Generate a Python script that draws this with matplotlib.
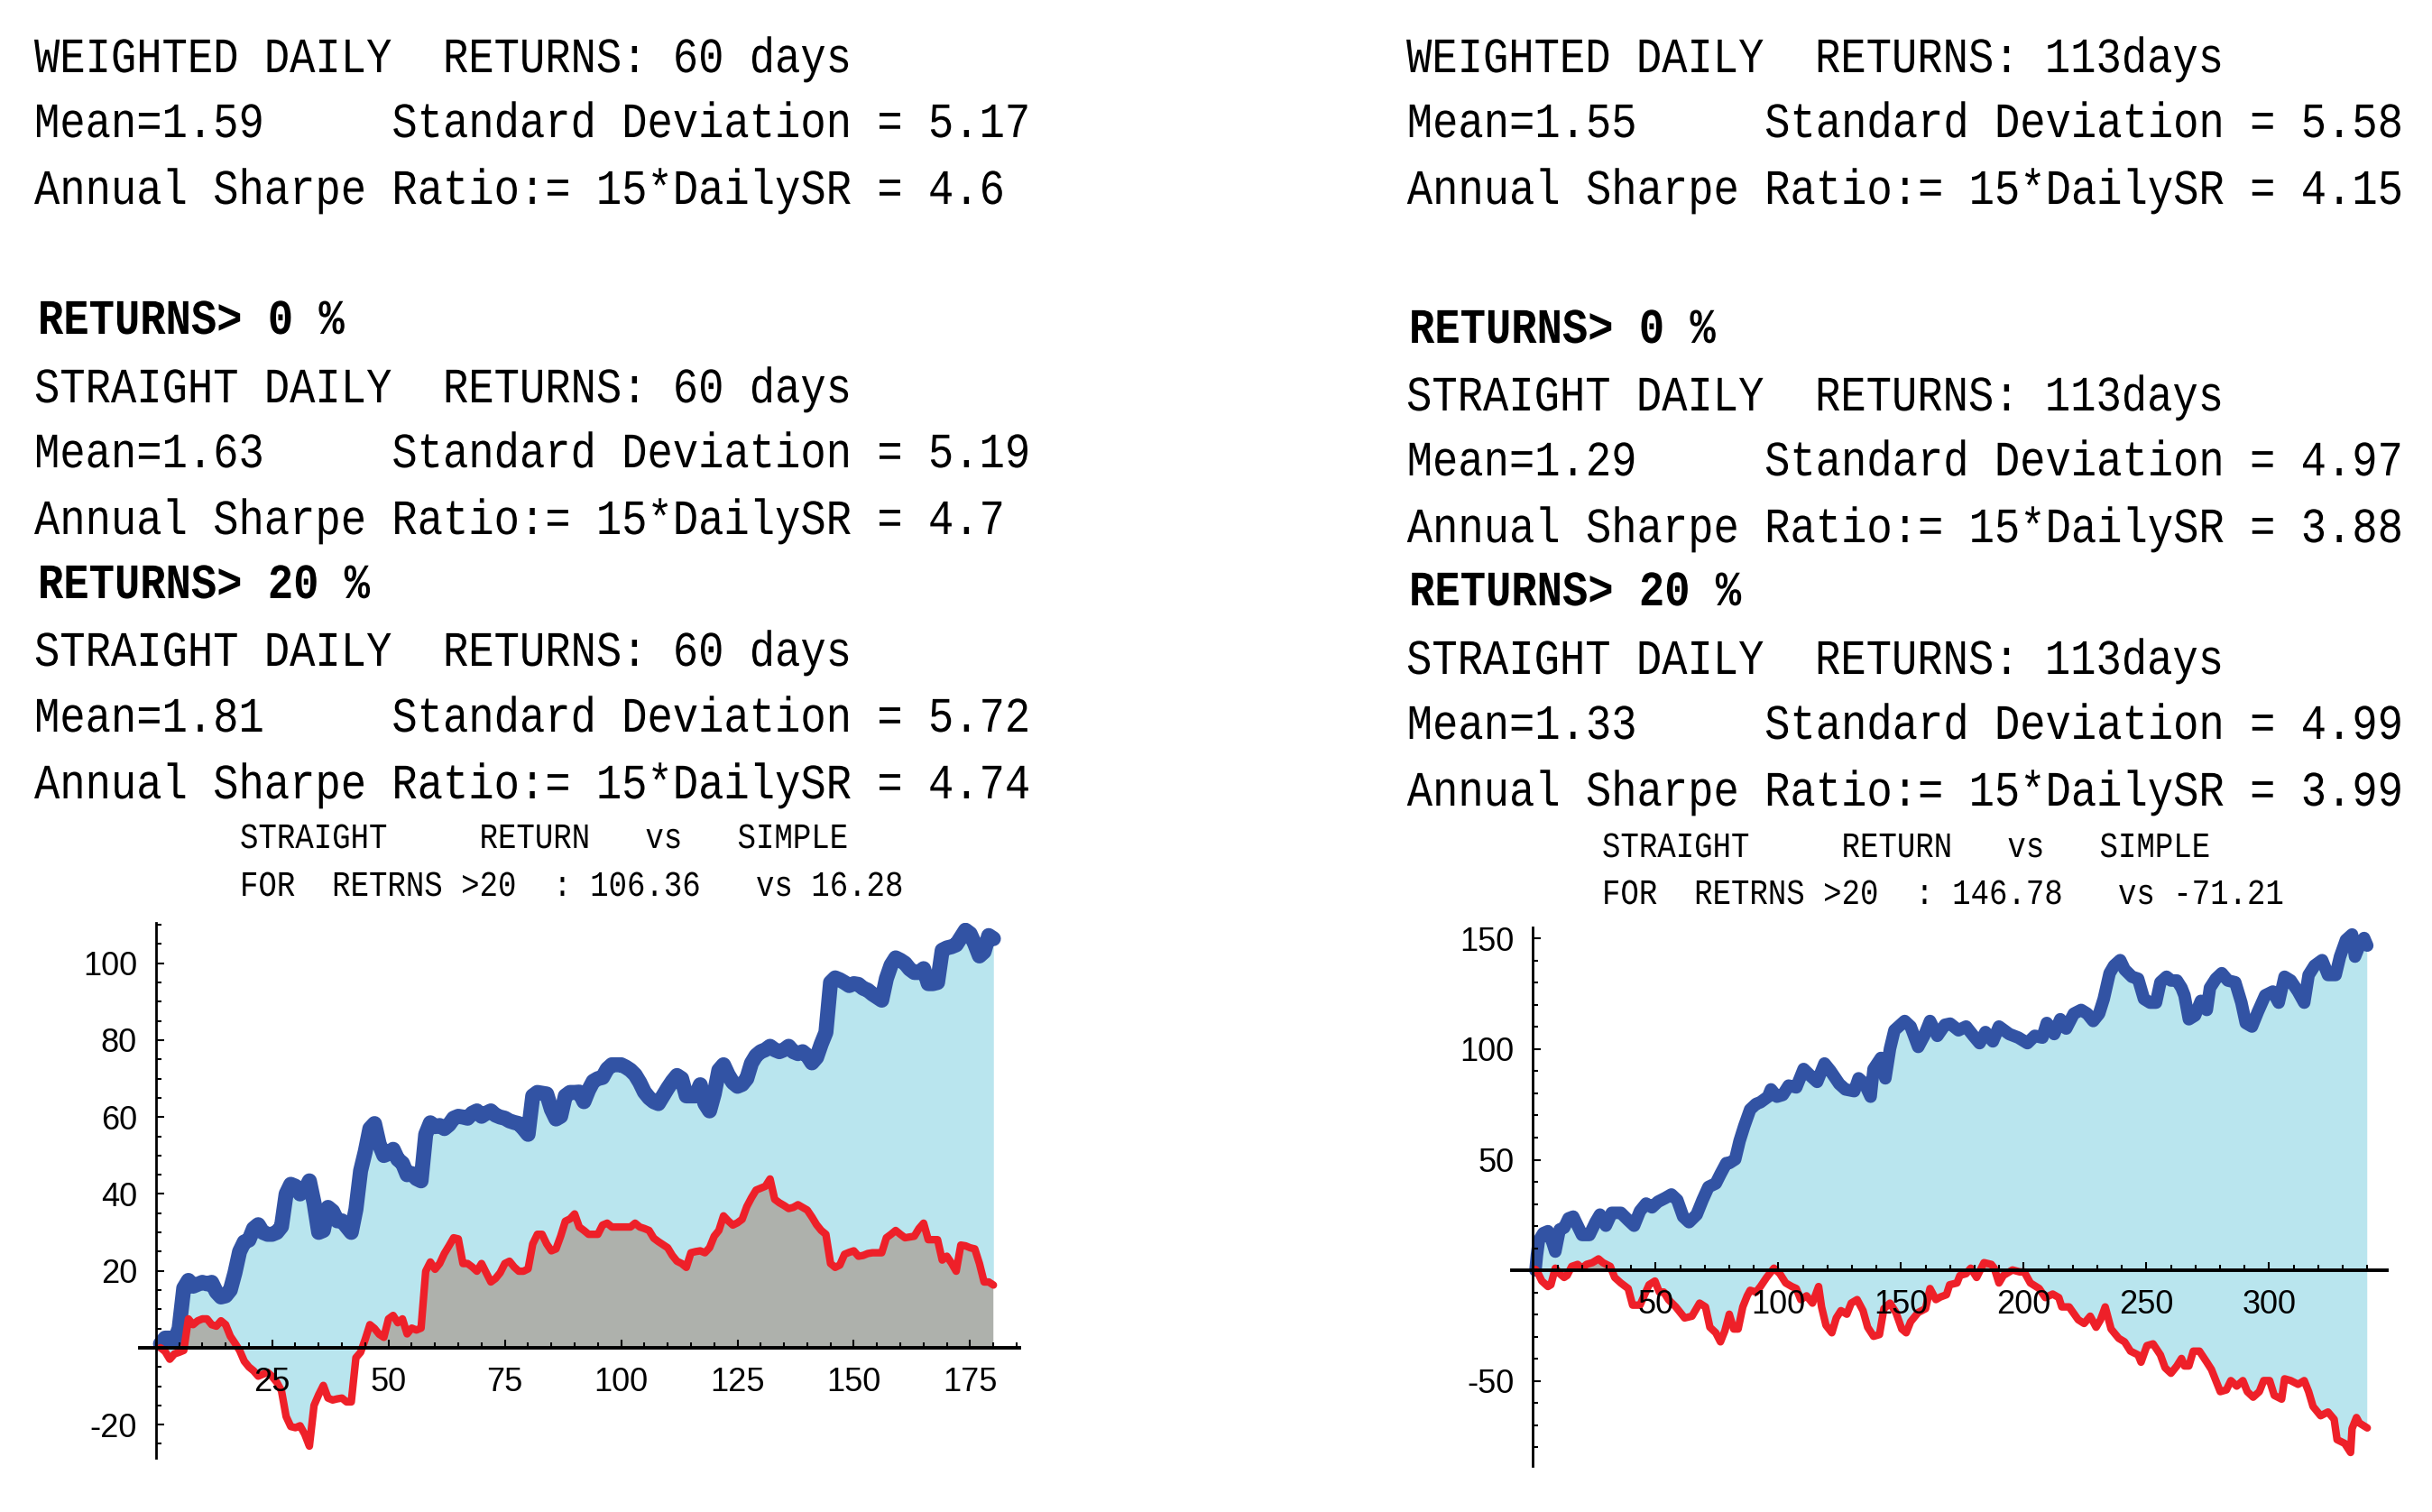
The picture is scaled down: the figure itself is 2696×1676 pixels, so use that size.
import numpy as np
import matplotlib
matplotlib.use("Agg")
import matplotlib.pyplot as plt
from matplotlib.patheffects import AbstractPathEffect
from matplotlib.transforms import Affine2D
from matplotlib.ticker import FixedLocator, FixedFormatter, MultipleLocator

W, H = 2696, 1676

# ---------------- text of the two report columns ----------------
left_lines = [
    "WEIGHTED DAILY  RETURNS: 60 days",
    "Mean=1.59     Standard Deviation = 5.17",
    "Annual Sharpe Ratio:= 15*DailySR = 4.6",
    "RETURNS> 0 %",
    "STRAIGHT DAILY  RETURNS: 60 days",
    "Mean=1.63     Standard Deviation = 5.19",
    "Annual Sharpe Ratio:= 15*DailySR = 4.7",
    "RETURNS> 20 %",
    "STRAIGHT DAILY  RETURNS: 60 days",
    "Mean=1.81     Standard Deviation = 5.72",
    "Annual Sharpe Ratio:= 15*DailySR = 4.74",
]
right_lines = [
    "WEIGHTED DAILY  RETURNS: 113days",
    "Mean=1.55     Standard Deviation = 5.58",
    "Annual Sharpe Ratio:= 15*DailySR = 4.15",
    "RETURNS> 0 %",
    "STRAIGHT DAILY  RETURNS: 113days",
    "Mean=1.29     Standard Deviation = 4.97",
    "Annual Sharpe Ratio:= 15*DailySR = 3.88",
    "RETURNS> 20 %",
    "STRAIGHT DAILY  RETURNS: 113days",
    "Mean=1.33     Standard Deviation = 4.99",
    "Annual Sharpe Ratio:= 15*DailySR = 3.99",
]
bold_rows = [3, 7]
left_title = ["STRAIGHT     RETURN   vs   SIMPLE",
              "FOR  RETRNS >20  : 106.36   vs 16.28"]
right_title = ["STRAIGHT     RETURN   vs   SIMPLE",
               "FOR  RETRNS >20  : 146.78   vs -71.21"]

# ---------------- left chart: cumulative returns, days 1..180 ----------------
left_straight = [1, 2.5, 2.5, 1.7, 5, 15.5, 17.5, 16, 16.5, 17,
                 16.6, 17, 14.5, 13.2, 13.5, 15, 19.5, 25, 27.5, 28,
                 31, 32, 30, 29.5, 29.5, 30, 31.5, 40, 42.5, 42,
                 40, 41, 43.4, 37.7, 30, 30.5, 36.5, 35.5, 33, 33,
                 31.5, 30, 36, 46, 51, 57, 58.3, 53, 50, 50.5,
                 51.6, 49, 48, 45, 45.3, 44, 43.4, 55.5, 58.5, 57.5,
                 57.8, 57, 58, 59.7, 60.2, 60, 59.7, 61, 61.6, 60.2,
                 61, 61.6, 60.5, 60, 59.7, 59, 58.6, 58.3, 57, 55.5,
                 65.5, 66.4, 66.2, 66, 62, 59.5, 60.2, 65.5, 66.4, 66.4,
                 66.5, 64, 67, 69.3, 70, 70.3, 72.5, 73.6, 73.6, 73.6,
                 73, 72.2, 71, 69, 66.5, 65, 64, 63.5, 65.5, 67.5,
                 69.3, 70.8, 70, 65.5, 65.5, 65.5, 68.4, 63.5, 61.6, 66,
                 72.2, 73.6, 71, 69, 68, 68.5, 70, 74, 76, 77,
                 77.5, 78.4, 77.5, 77, 77.5, 78.4, 77, 76.5, 77, 76,
                 74.1, 75.5, 79, 82, 95, 96.2, 95.7, 95, 94.2, 94.7,
                 94.5, 93.5, 93, 92, 91.2, 90.4, 96, 99.5, 101.4, 100.8,
                 100, 98.5, 97.6, 97.6, 98.6, 94.7, 94.7, 95, 103.4, 104,
                 104.3, 104.8, 106.7, 108.6, 107.7, 105, 101.9, 103, 107.2, 106.4]
left_simple = [0, -1, -3, -1.6, -1.2, -0.7, 7.5, 6, 7, 7.5,
               7.5, 6, 5.6, 7, 6, 3, 1.2, -0.7, -3.5, -5,
               -6, -7.4, -6.9, -6.4, -7.5, -9, -11.2, -17.9, -20.5, -20.8,
               -20.3, -22.5, -25.6, -15, -12.2, -9.8, -13.1, -13.6, -13.3, -13.1,
               -14.1, -14.1, -2.6, -1.2, 2.2, 6, 5, 3.5, 2.7, 7.5,
               8.4, 6.5, 7.5, 3.6, 5.1, 4.6, 5.1, 19.9, 22.3, 20.4,
               21.9, 24.5, 26.5, 28.6, 28.3, 21.9, 21.9, 21, 19.9, 21.9,
               19.5, 17.1, 18, 19.5, 21.9, 22.5, 21, 19.9, 19.9, 20.5,
               27, 29.5, 29.5, 27, 25.2, 25.7, 29, 32.9, 33.5, 34.8,
               31.4, 30.5, 29.5, 29.5, 29.5, 31.9, 32.4, 31.4, 31.4, 31.4,
               31.4, 31.4, 32.4, 31.4, 31, 30.5, 28.5, 27.6, 26.8, 26,
               24, 22.5, 21.9, 20.9, 24.7, 25, 25.2, 24.7, 26, 29,
               30.5, 34.3, 33, 31.9, 32.5, 33.4, 36.7, 39, 41, 41.5,
               42, 43.9, 38.6, 37.7, 37, 36.2, 36.5, 37.2, 36.5, 35.8,
               34, 32, 30.5, 29.5, 21.9, 20.9, 21.5, 24.3, 24.8, 25.2,
               23.8, 24, 24.5, 24.7, 24.7, 24.7, 28.6, 29.5, 30.5, 29.5,
               28.6, 28.8, 29, 31, 32.4, 28.1, 28.1, 28.1, 22.8, 23.8,
               22, 19.9, 26.7, 26.5, 26, 25.7, 21.9, 17.1, 17.1, 16.3]
left_days = np.arange(1, len(left_straight) + 1)

# ---------------- right chart: points ----------------
right_straight_x = [1, 1.6, 2.4, 4.2, 6.1, 7.9, 9.1, 10.9, 12.7, 14.5, 16.4, 18.2, 20, 23,
                    25.5, 27.3, 29.7, 32.1, 35.8, 38.8, 41.2, 43.6, 46.1, 48.5, 50.9, 53.9,
                    56.4, 58.8, 61.2, 63.6, 66.7, 69.1, 71.5, 74.5, 76.4, 78.8, 80, 82.4,
                    84.2, 86.1, 88.5, 90.9, 92.7, 95.8, 97, 99.4, 101.8, 104.2, 107.3, 110.3,
                    113.3, 115.8, 118.8, 121.2, 124.8, 127.3, 130.9, 132.7, 135.2, 137.6,
                    138.8, 141.8, 143.6, 145.5, 147.3, 151.5, 153.9, 157, 159.4, 161.8,
                    164.8, 167.9, 170, 173.4, 176.5, 179.5, 182, 184.4, 187.4, 189.9, 194.1,
                    197.8, 201.5, 204.5, 207.6, 209.4, 212.4, 214.9, 217.3, 220.4, 223.4,
                    225.9, 228.3, 230.7, 232.6, 235, 236.8, 239.3, 241.1, 244.1, 246.6, 249,
                    251.5, 253.9, 255.7, 258.2, 260, 262.4, 264.3, 265.5, 267.3, 269.8,
                    272.2, 274.6, 275.9, 278.3, 280.7, 283.2, 286.2, 288.7, 290.5, 293,
                    295.4, 298.4, 301.5, 303.9, 306.3, 308.8, 311.8, 314.3, 316.1, 318.5,
                    321.6, 324, 327.1, 328.9, 331.3, 333.8, 335, 336.8, 338.7, 340]
right_straight = [0, 6.8, 13.5, 16.8, 17.7, 12.7, 8.5, 18.5, 19.3, 23.5, 24.3, 20.2, 16, 16,
                  21.8, 25.2, 20.2, 26, 26, 22.7, 20.2, 26.8, 30.2, 28.5, 31, 32.7,
                  34.3, 31.8, 24.3, 21.8, 25.2, 31.8, 37.7, 39.3, 43.5, 48.5, 48.5, 50.2,
                  58.5, 65.2, 72.7, 75.2, 76, 78.5, 81.8, 78.5, 79.3, 83.5, 82.7, 91,
                  87.7, 85.2, 93.5, 90.2, 84.3, 81.8, 81, 86.8, 84.3, 78.5,
                  91, 96, 86.8, 100.2, 108.5, 112.7, 110.2, 101, 106, 112.7,
                  106, 111, 111.5, 108.5, 110.2, 106, 102.7, 107.7, 103.5, 110.2, 106.8,
                  105.2, 102.7, 106, 105.2, 111.8, 106.8, 113.5, 109.3, 116, 117.7,
                  116, 112.7, 116, 122.7, 134.3, 137.7, 140.2, 136, 132.7, 131.8, 122.7,
                  121, 121, 130.2, 132.7, 131, 131, 127.7, 124.3, 113.5, 115.2,
                  121.8, 117.7, 127.7, 131.8, 134.3, 131, 130.2, 121, 111.8, 110.2,
                  116.8, 124.3, 126, 121, 132.7, 131, 126, 121, 133.5, 137.7,
                  140.2, 133.5, 133.5, 141.8, 149.3, 151.8, 141.8, 146.8, 150.2, 146.8]
right_simple_x = [1, 1.8, 3.6, 6.1, 7.3, 9.1, 10.9, 12.7, 13.9, 15.8, 18.2, 20, 21.8, 24.2,
                  26.7, 28.5, 31.5, 33.3, 35.8, 38.8, 40.6, 43.6, 47.3, 49.7, 51.5, 53.3,
                  55.2, 58.2, 61.8, 64.8, 67.9, 70.3, 72.1, 74.5, 76.4, 78.2, 80, 81.8,
                  83.6, 85.5, 87.3, 88.5, 90.9, 92.7, 95.2, 98.2, 100.6, 103, 105.5, 107.3,
                  109.1, 111.5, 113.9, 116.4, 117.6, 119.4, 121.8, 123.6, 125.5, 127.9,
                  129.7, 132.1, 134.5, 136.4, 138.8, 141.2, 143, 145.5, 147.9, 150.3,
                  152.1, 153.9, 157, 160, 161.8, 164.2, 166.1, 168.5, 169.8, 172.8, 174,
                  176.5, 178.4, 180.8, 183.8, 186.8, 188, 189.9, 191.7, 195.4, 198.4,
                  200.2, 202.7, 206.3, 208.8, 211.8, 214.3, 215.5, 218.5, 222.2, 224.6,
                  227.1, 229.5, 231.3, 233.2, 235.6, 238.7, 241.1, 243.5, 246.6, 247.8,
                  250.2, 252.7, 255.7, 257.6, 260, 262.4, 264.3, 265.5, 267.3, 269.1,
                  271.6, 274.6, 276.5, 278.3, 280.1, 282.6, 284.4, 286.8, 289.3, 291.1,
                  293.5, 296, 297.8, 300.2, 302.1, 305.1, 306.3, 308.8, 311.8, 314.3,
                  316.1, 317.9, 321, 324, 326.5, 327.7, 330.8, 333.2, 333.8, 335.6,
                  336.8, 340]
right_simple = [0.5, -0.7, -4.8, -7.3, -6.5, 1, -1.5, -3.2, -2.3, 1.8, 2.7, 1, 2.7, 3.5,
                5.2, 3.5, 1.8, -3.2, -5.7, -8.2, -15.7, -15.7, -6.5, -4.8, -9.8, -9.8,
                -13.2, -16.5, -21.5, -20.7, -14.8, -16.5, -25.7, -28.2, -32.3, -27.3, -19.8, -26.5,
                -26.5, -16.5, -11.5, -9, -9.8, -7.3, -3.2, 1, -1.5, -5.7, -7.3, -8.2,
                -13.2, -11.5, -14.8, -7.3, -16.5, -24.8, -28.2, -21.5, -18.2, -19.8,
                -14.8, -13.2, -18.2, -25.7, -29.8, -29, -17.3, -14.8, -19, -26.5,
                -28.2, -23.2, -19, -17.3, -8.2, -13.2, -12, -11, -6.5, -5.7, -2.3,
                -1.5, 1, -3.2, 3.5, 2.7, 1, -5.7, -2.3, 0.2, -0.7,
                -0.7, -5.7, -8.2, -12.3, -10.7, -12.3, -16.5, -16.5, -22.3, -24,
                -20.7, -25.7, -22.3, -16.5, -26.5, -30.7, -32.3, -36.5, -38.2, -41.5,
                -34, -33.2, -38.2, -44, -46.5, -43.2, -39.8, -43.2, -43.2, -36.5,
                -36.5, -41.5, -44.8, -49.8, -54.8, -54, -49.8, -52.3, -49.8, -54.8,
                -57.3, -54.8, -49.8, -49.8, -56.5, -58.2, -49, -49.8, -51.5, -49.8,
                -54.8, -61.5, -65.7, -64, -67.3, -76.5, -78.2, -82.3, -71.5, -66.5,
                -69, -71.2]

left_yticks = [-20, 20, 40, 60, 80, 100]
left_xticks = [25, 50, 75, 100, 125, 150, 175]
right_yticks = [-50, 50, 100, 150]
right_xticks = [50, 100, 150, 200, 250, 300]

BLUE = "#3253a4"
RED = "#ee2029"
LIGHT = "#b9e5ee"
GREY = "#aeb1ac"


class Squeeze(AbstractPathEffect):
    # the original uses a narrow typewriter face: squeeze Liberation Mono sideways,
    # keeping either the left end or the right end of the text in place
    def __init__(self, sx, right=False):
        super().__init__()
        self.sx = sx
        self.right = right

    def draw_path(self, renderer, gc, tpath, affine, rgbFace=None):
        if self.right:
            xr = tpath.get_extents(affine).x1
            t = affine + Affine2D().translate(-xr, 0).scale(self.sx, 1.0).translate(xr, 0)
        else:
            t = Affine2D().scale(self.sx, 1.0) + affine
        renderer.draw_path(gc, tpath, t, rgbFace)


SQ = 0.86
ADV = 28.35          # squeezed character advance of the body text, px
BODY = 39.5
SMALL = 28.5
plt.rcParams['font.family'] = ['Liberation Sans', 'DejaVu Sans']
fig = plt.figure(figsize=(W / 100, H / 100), dpi=100)


def put(x, y, s, size, bold=False, right=False):
    # x is always where the squeezed text starts
    if right:
        x = x + len(s) * ADV
    fig.text(x / W, 1 - y / H, s, fontsize=size, family='Liberation Mono',
             fontweight='bold' if bold else 'normal',
             ha='right' if right else 'left', va='baseline',
             color='black', path_effects=[Squeeze(SQ, right)])


rows_left = [80, 152, 226, 370, 446, 518, 592, 663, 738, 811, 885]
rows_right = [80, 152, 226, 380, 455, 527, 601, 671, 747, 819, 893]
for i, s in enumerate(left_lines):
    b = i in bold_rows
    put(42 if b else 38, rows_left[i], s, BODY, b)
for i, s in enumerate(right_lines):
    b = i in bold_rows
    put(1561 if b else 1557, rows_right[i], s, BODY, b, right=True)
put(266, 940, left_title[0], SMALL)
put(266, 993, left_title[1], SMALL)
put(1776, 950, right_title[0], SMALL)
put(1776, 1002, right_title[1], SMALL)


def style_axes(ax, xt, yt, xminor, yminor):
    for side in ['top', 'right']:
        ax.spines[side].set_visible(False)
    ax.spines['left'].set_position(('data', 0))
    ax.spines['bottom'].set_position(('data', 0))
    ax.spines['left'].set_linewidth(2.0)
    ax.spines['bottom'].set_linewidth(2.8)
    ax.set_axisbelow(False)
    ax.xaxis.set_major_locator(FixedLocator(xt))
    ax.xaxis.set_major_formatter(FixedFormatter([str(v) for v in xt]))
    ax.yaxis.set_major_locator(FixedLocator(yt))
    ax.yaxis.set_major_formatter(FixedFormatter([str(v) for v in yt]))
    ax.xaxis.set_minor_locator(MultipleLocator(xminor))
    ax.yaxis.set_minor_locator(MultipleLocator(yminor))
    ax.tick_params(which='both', direction='in', width=1.5, color='black',
                   labelsize=26, pad=15)
    ax.tick_params(which='major', length=6.7)
    ax.tick_params(which='minor', length=4)
    ax.patch.set_visible(False)


# left chart
ax1 = fig.add_axes([154.7 / W, (H - 1616.2) / H, 974.9 / W, 593.2 / H])
ls = np.array(left_simple)
ax1.fill_between(left_days, left_straight, left_simple, color=LIGHT, lw=0, zorder=1)
ax1.fill_between(left_days, 0, ls, where=ls > 0, interpolate=True, color=GREY, lw=0, zorder=1.1)
ax1.plot(left_days, left_straight, color=BLUE, lw=12, solid_joinstyle='round',
         solid_capstyle='round', zorder=2)
ax1.plot(left_days, left_simple, color=RED, lw=6, solid_joinstyle='round',
         solid_capstyle='round', zorder=2.1)
ax1.set_xlim(-3.5, 185.5)
ax1.set_ylim(-28.7, 110.5)
style_axes(ax1, left_xticks, left_yticks, 5, 5)

# right chart
ax2 = fig.add_axes([1676 / W, (H - 1625) / H, 970 / W, 597 / H])
rsx = np.array(right_simple_x)
rs = np.array(right_simple)
ax2.fill(np.r_[right_straight_x, rsx[::-1]], np.r_[right_straight, rs[::-1]],
         color=LIGHT, lw=0, zorder=1)
ax2.fill_between(rsx, 0, rs, where=rs > 0, interpolate=True, color=GREY, lw=0, zorder=1.1)
ax2.plot(right_straight_x, right_straight, color=BLUE, lw=10, solid_joinstyle='round',
         solid_capstyle='round', zorder=2)
ax2.plot(rsx, rs, color=RED, lw=6, solid_joinstyle='round',
         solid_capstyle='round', zorder=2.1)
ax2.set_xlim(-8.6, 348)
ax2.set_ylim(-88.4, 155)
style_axes(ax2, right_xticks, right_yticks, 10, 10)

fig.savefig("out.png", dpi=100, facecolor='white')
